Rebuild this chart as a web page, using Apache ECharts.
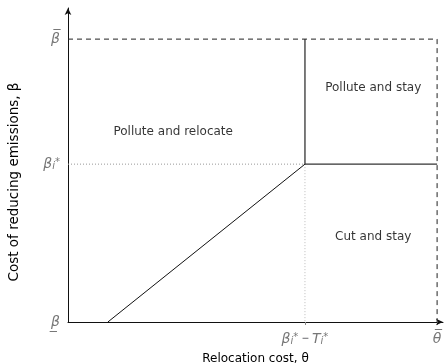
<!DOCTYPE html>
<html>
<head>
<meta charset="utf-8">
<script src="https://cdn.jsdelivr.net/npm/echarts@6/dist/echarts.min.js"></script>
<style>html,body{margin:0;padding:0;background:#fff}#c{width:445px;height:363px}</style>
</head>
<body>
<div id="c"></div>
<script>
// ---- data ----
var xTickValues = [0.642, 1];
var xTickLabels = ['{g|β}{sb|i}{sp|*} − {g|T}{sb|i}{sp|*}', '{g|θ\u0305}'];
var yTickValues = [0, 0.558, 1];
var yTickLabels = ['{g|β\u0332}', '{g|β}{sb|i}{sp|*}', '{g|β\u0305}'];
var diagonal = [[0.108, 0], [0.642, 0.558]];
var verticalBoundary = [[0.642, 0.558], [0.642, 1]];
var horizontalBoundary = [[0.642, 0.558], [1, 0.558]];
var topDashed = [[0, 1], [1, 1]];
var rightDashed = [[1, 1], [1, 0]];
var dottedH = [[0, 0.558], [0.642, 0.558]];
var dottedV = [[0.642, 0.558], [0.642, 0]];
var regionLabels = [
  [0.285, 0.671, 'Pollute and relocate'],
  [0.827, 0.827, 'Pollute and stay'],
  [0.827, 0.300, 'Cut and stay']
];

var FONT = 'DejaVu Sans';
var rich = {
  g: {fontFamily: FONT, fontStyle: 'italic', fontSize: 14, color: '#777'},
  sb: {fontFamily: FONT, fontStyle: 'italic', fontSize: 10, color: '#777', verticalAlign: 'bottom'},
  sp: {fontFamily: FONT, fontSize: 10, color: '#777', verticalAlign: 'top'}
};
function lineSeries(data, color, type, width) {
  return {
    type: 'line', data: data, showSymbol: false, symbol: 'none', silent: true,
    lineStyle: {color: color, type: type, width: width}, z: 3
  };
}
var chart = echarts.init(document.getElementById('c'), null, {renderer: 'canvas'});
chart.setOption({
  animation: false,
  grid: {left: 68, right: 2, top: 8, bottom: 41, containLabel: false, outerBoundsMode: 'none'},
  xAxis: {
    type: 'value', min: 0, max: 1.016,
    name: 'Relocation cost, θ', nameLocation: 'middle', nameGap: 31,
    nameTextStyle: {fontFamily: FONT, fontSize: 12, color: '#000'},
    axisLine: {show: true, lineStyle: {color: '#111', width: 1}, symbol: ['none', 'arrow'], symbolSize: [5, 7]},
    axisTick: {show: true, length: 3, customValues: xTickValues, lineStyle: {color: '#888'}},
    axisLabel: {
      customValues: xTickValues, margin: 10,
      formatter: function (v) { return xTickLabels[xTickValues.indexOf(v)]; },
      rich: rich
    },
    splitLine: {show: false}
  },
  yAxis: {
    type: 'value', min: 0, max: 1.11,
    name: 'Cost of reducing emissions, β', nameLocation: 'middle', nameGap: 47,
    nameTextStyle: {fontFamily: FONT, fontSize: 13.5, color: '#000', padding: [0, 34, 0, 0]},
    axisLine: {show: true, lineStyle: {color: '#111', width: 1}, symbol: ['none', 'arrow'], symbolSize: [5, 7]},
    axisTick: {show: false},
    axisLabel: {
      customValues: yTickValues, margin: 8,
      formatter: function (v) { return yTickLabels[yTickValues.indexOf(v)]; },
      rich: rich
    },
    splitLine: {show: false}
  },
  series: [
    lineSeries(topDashed, '#222', [5, 4], 1),
    lineSeries(rightDashed, '#222', [5, 4], 1),
    lineSeries(dottedH, '#999', [1, 2], 1),
    lineSeries(dottedV, '#bbb', [1, 2], 1),
    lineSeries(diagonal, '#111', 'solid', 1),
    lineSeries(verticalBoundary, '#333', 'solid', 1.3),
    lineSeries(horizontalBoundary, '#333', 'solid', 1.3),
    {
      type: 'scatter', data: regionLabels, symbolSize: 0, silent: true,
      label: {
        show: true, position: 'inside',
        formatter: function (p) { return p.data[2]; },
        fontFamily: FONT, fontSize: 12, color: '#000'
      }
    }
  ]
});
</script>
</body>
</html>
